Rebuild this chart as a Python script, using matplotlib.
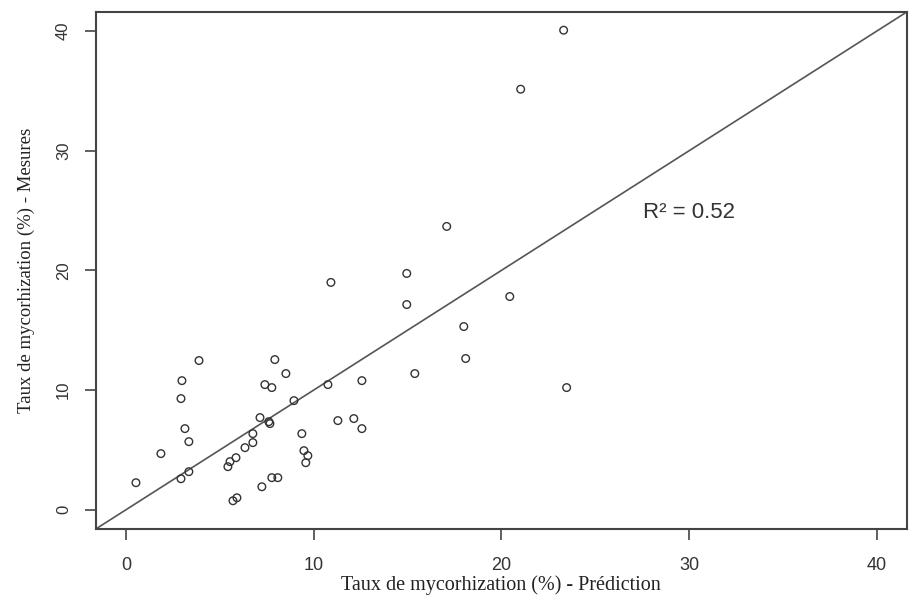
import matplotlib
matplotlib.use("Agg")
import matplotlib.pyplot as plt


prediction = [23.32, 21.03, 17.09, 14.96, 10.92, 20.45, 14.96, 18.00, 18.10, 15.39,
              23.48, 3.89, 7.93, 8.52, 2.98, 7.40, 7.77, 10.76, 12.57, 2.93,
              8.95, 7.14, 7.61, 7.67, 11.29, 12.14, 12.57, 3.14, 3.35, 6.76,
              6.76, 6.34, 9.37, 9.48, 9.69, 9.58, 1.86, 5.86, 5.54, 5.43,
              3.35, 2.93, 0.53, 7.77, 8.09, 7.24, 5.70, 5.91]
mesures = [40.08, 35.15, 23.68, 19.75, 19.00, 17.82, 17.15, 15.31, 12.64, 11.38,
           10.21, 12.47, 12.55, 11.38, 10.79, 10.46, 10.21, 10.46, 10.79, 9.29,
           9.12, 7.70, 7.36, 7.20, 7.45, 7.62, 6.78, 6.78, 5.69, 6.36,
           5.61, 5.19, 6.36, 4.94, 4.52, 3.93, 4.69, 4.35, 4.02, 3.60,
           3.18, 2.59, 2.26, 2.68, 2.68, 1.92, 0.75, 1.00]
ticks = [0, 10, 20, 30, 40]
r2_text = "R² = 0.52"

fig = plt.figure(figsize=(9.14, 6.01), dpi=100)
ax = fig.add_axes([0.105, 0.12, 0.887, 0.86])

ax.scatter(prediction, mesures, s=30, facecolors="none", edgecolors="#333333",
           linewidths=1.0, zorder=3)
ax.axline((0, 0), slope=1, color="#555555", lw=1.2)

ax.set_xlim(-1.6, 41.6)
ax.set_ylim(-1.6, 41.6)
ax.set_xticks(ticks)
ax.set_yticks(ticks)
ax.tick_params(direction="out", length=8, width=1.2, color="#444444",
               labelcolor="#333333")
ax.tick_params(axis="x", labelsize=13, pad=12)
ax.tick_params(axis="y", labelsize=12, pad=10)
for lab in ax.get_yticklabels():
    lab.set_rotation(90)
    lab.set_va("center")
for lab in ax.get_xticklabels() + ax.get_yticklabels():
    lab.set_family("Liberation Sans")

for sp in ax.spines.values():
    sp.set_linewidth(1.5)
    sp.set_color("#444444")

ax.set_xlabel("Taux de mycorhization (%) - Prédiction", family="Liberation Serif",
              fontsize=14.5, color="#222222", labelpad=1)
ax.set_ylabel("Taux de mycorhization (%) - Mesures", family="Liberation Serif",
              fontsize=13.5, color="#222222", labelpad=15)

ax.text(30, 24.85, r2_text, family="Liberation Sans", fontsize=16,
        color="#333333", ha="center", va="center")

fig.savefig("out.png", dpi=100)
